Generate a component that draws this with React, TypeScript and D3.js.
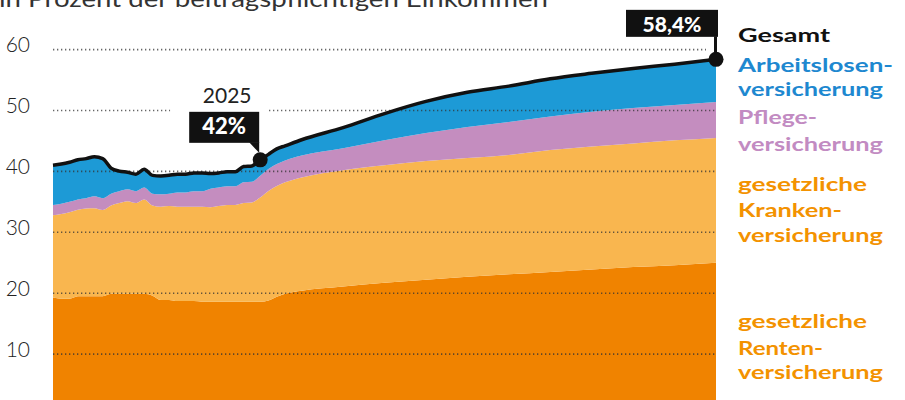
import React from "react";
import * as d3 from "d3";

const years = [
  2000, 2001, 2002, 2003, 2004, 2005, 2006, 2007, 2008, 2009, 2010, 2011, 2012,
  2013, 2014, 2015, 2016, 2017, 2018, 2019, 2020, 2021, 2022, 2023, 2024, 2025,
  2026, 2027, 2028, 2030, 2035, 2040, 2045, 2050, 2055, 2060, 2065, 2070, 2075, 2080,
];
const rente = [
  19.3, 19.1, 19.1, 19.5, 19.5, 19.5, 19.5, 19.9, 19.9, 19.9, 19.9, 19.9, 19.6,
  18.9, 18.9, 18.7, 18.7, 18.7, 18.6, 18.6, 18.6, 18.6, 18.6, 18.6, 18.6, 18.6,
  18.8, 19.4, 19.9, 20.4, 21.1, 21.7, 22.2, 22.7, 23.1, 23.5, 23.9, 24.3, 24.6, 25.0,
];
const kranken = [
  13.5, 13.9, 14.2, 14.2, 14.4, 14.45, 14.15, 14.5, 14.9, 15.2, 14.9, 15.5, 14.8,
  15.3, 15.4, 15.5, 15.5, 15.5, 15.6, 15.5, 15.7, 15.9, 15.9, 16.2, 16.3, 17.1,
  18.0, 18.2, 18.3, 18.6, 19.1, 19.3, 19.5, 19.5, 19.6, 20.0, 20.2, 20.3, 20.5, 20.5,
];
const pflege = [
  1.7, 1.7, 1.7, 1.7, 1.7, 1.95, 1.95, 1.95, 1.95, 1.95, 1.95, 1.95, 1.95,
  2.05, 2.05, 2.35, 2.35, 2.55, 2.55, 3.05, 3.05, 3.05, 3.05, 3.4, 3.4, 3.6,
  3.6, 3.6, 3.6, 3.6, 3.6, 4.1, 4.6, 5.1, 5.4, 5.5, 5.7, 5.8, 5.8, 5.9,
];
const arbeitslos = [
  6.5, 6.5, 6.5, 6.5, 6.5, 6.5, 6.5, 4.2, 3.3, 2.8, 2.8, 3.0, 3.0,
  3.0, 3.0, 3.0, 3.0, 3.0, 3.0, 2.5, 2.4, 2.4, 2.4, 2.6, 2.6, 2.6,
  2.4, 2.5, 2.4, 2.6, 3.4, 4.4, 5.2, 5.7, 5.9, 6.2, 6.3, 6.5, 6.7, 7.0,
];
const yTicks = [10, 20, 30, 40, 50, 60];
const seriesKeys = ["rente", "kranken", "pflege", "arbeitslos"];
const seriesColors = ["#F08300", "#F9B64F", "#C48DBF", "#1D9AD6"];
const subtitle = "in Prozent der beitragspflichtigen Einkommen";

const legendLines = [
  { text: "Gesamt", color: "#111111", y: 42, w: 92 },
  { text: "Arbeitslosen-", color: "#1E88D0", y: 72, w: 155 },
  { text: "versicherung", color: "#1E88D0", y: 96, w: 145 },
  { text: "Pflege-", color: "#C28BC2", y: 124, w: 79 },
  { text: "versicherung", color: "#C28BC2", y: 151, w: 145 },
  { text: "gesetzliche", color: "#F39200", y: 191, w: 129 },
  { text: "Kranken-", color: "#F39200", y: 217, w: 104 },
  { text: "versicherung", color: "#F39200", y: 242, w: 145 },
  { text: "gesetzliche", color: "#F39200", y: 328, w: 129 },
  { text: "Renten-", color: "#F39200", y: 355, w: 85 },
  { text: "versicherung", color: "#F39200", y: 379, w: 145 },
];

const W = 905;
const H = 400;

export default function App() {
  const x = d3.scaleLinear().domain([2000, 2080]).range([53, 716]);
  const y = d3.scaleLinear().domain([0, 60]).range([415, 49.6]);

  const rows = years.map((yr, i) => ({
    year: yr,
    rente: rente[i],
    kranken: kranken[i],
    pflege: pflege[i],
    arbeitslos: arbeitslos[i],
  }));
  const stack = d3.stack<any>().keys(seriesKeys)(rows);
  const curve = d3.curveMonotoneX;
  const area = d3
    .area<any>()
    .x((d) => x(d.data.year))
    .y0((d) => y(d[0]))
    .y1((d) => y(d[1]))
    .curve(curve);
  const totals = rows.map((r) => ({ year: r.year, v: r.rente + r.kranken + r.pflege + r.arbeitslos }));
  const line = d3
    .line<any>()
    .x((d) => x(d.year))
    .y((d) => y(d.v))
    .curve(curve);

  const t2025 = totals.find((d) => d.year === 2025)!;
  const tEnd = totals[totals.length - 1];
  const ax = x(t2025.year);
  const ay = y(t2025.v);
  const ex = x(tEnd.year);
  const ey = y(tEnd.v);

  return (
    <svg
      width={W}
      height={H}
      style={{ position: "fixed", left: 0, top: 0, background: "#fff" }}
      fontFamily="Lato, 'Noto Sans', sans-serif"
    >
      <rect width={W} height={H} fill="#fff" />
      <text x={-1} y={7} fontSize={24} fill="#333" textLength={549} lengthAdjust="spacingAndGlyphs">
        {subtitle}
      </text>

      {stack.map((s, i) => (
        <path key={s.key} d={area(s as any) || ""} fill={seriesColors[i]} />
      ))}

      {yTicks.map((t) => (
        <g key={t}>
          <line
            x1={x(2000)}
            x2={x(2080)}
            y1={y(t)}
            y2={y(t)}
            stroke="#333"
            strokeOpacity={0.75}
            strokeWidth={1.6}
            strokeDasharray="1.3 2.7"
          />
          <text x={30} y={y(t) + 2.5} fontSize={21} fontWeight={300} fill="#222" textAnchor="end">
            {t}
          </text>
        </g>
      ))}

      {/* annotation backgrounds */}
      <rect x={ax - 90} y={ay - 82} width={98} height={72} fill="#fff" />
      <rect x={ex - 10} y={ey - 23} width={14} height={15} fill="#fff" />

      <path d={line(totals) || ""} fill="none" stroke="#111" strokeWidth={3.5} strokeLinejoin="round" />

      {/* 2025 annotation */}
      <text x={ax - 33} y={ay - 57} fontSize={21} fill="#222" textAnchor="middle">
        2025
      </text>
      <rect x={ax - 71} y={ay - 48} width={70} height={31} fill="#111" />
      <polygon points={`${ax - 11},${ay - 17.5} ${ax - 1},${ay - 17.5} ${ax - 1},${ay - 7}`} fill="#111" />
      <text x={ax - 36} y={ay - 26} fontSize={22} fontWeight={900} fill="#fff" textAnchor="middle">
        42%
      </text>
      <circle cx={ax} cy={ay} r={7.5} fill="#111" />

      {/* end annotation */}
      <rect x={ex - 90} y={ey - 49.5} width={92} height={27} fill="#111" />
      <rect x={ex - 2} y={ey - 23} width={3} height={16} fill="#111" />
      <text x={ex - 44} y={ey - 27} fontSize={21} fontWeight={900} fill="#fff" textAnchor="middle">
        58,4%
      </text>
      <circle cx={ex} cy={ey} r={7.5} fill="#111" />

      {legendLines.map((l, i) => (
        <text
          key={i}
          x={738}
          y={l.y}
          fontSize={19}
          fontWeight={700}
          fill={l.color}
          textLength={l.w}
          lengthAdjust="spacingAndGlyphs"
        >
          {l.text}
        </text>
      ))}
    </svg>
  );
}
